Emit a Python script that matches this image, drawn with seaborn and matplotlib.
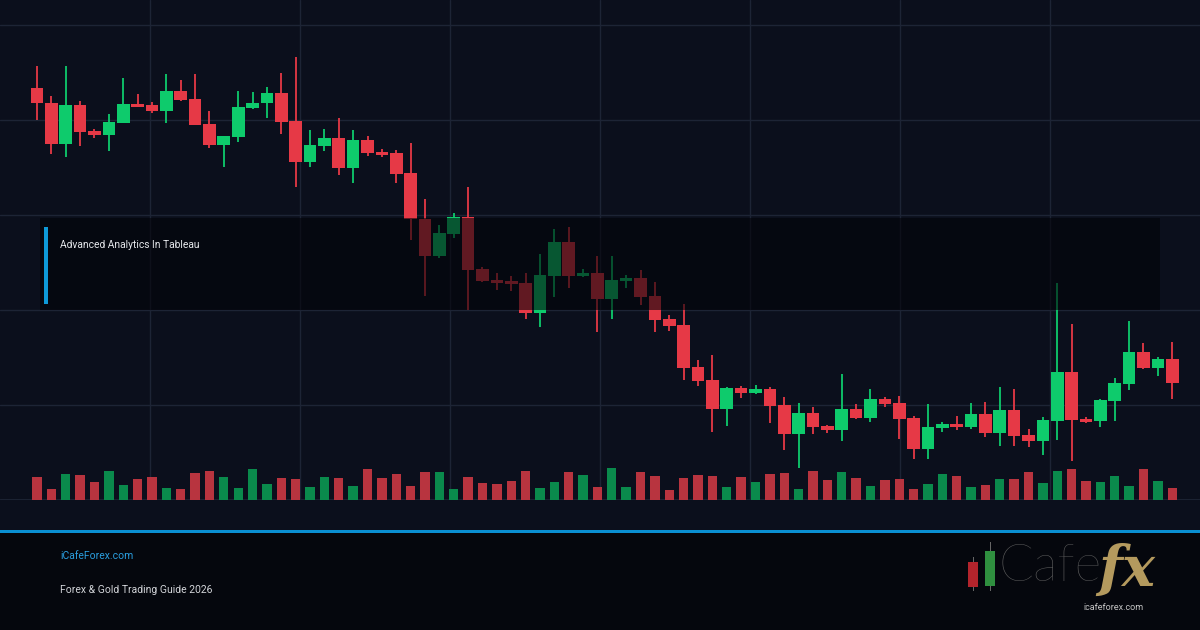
import numpy as np
import pandas as pd
import seaborn as sns
import matplotlib.pyplot as plt
from matplotlib.patches import Rectangle

# candle values (arbitrary price units)
opens = [2341.2, 2339.7, 2335.6, 2339.5, 2336.9, 2336.5, 2337.7, 2339.6, 2339.5, 2338.9,
         2340.9, 2340.1, 2337.6, 2335.5, 2336.3, 2339.2, 2339.7, 2340.7, 2337.9, 2333.8,
         2335.4, 2336.2, 2333.2, 2336.0, 2334.8, 2334.7, 2332.7, 2328.1, 2324.4, 2326.6,
         2328.3, 2323.1, 2322.0, 2321.9, 2321.7, 2318.7, 2322.4, 2325.8, 2322.4, 2322.7,
         2320.1, 2321.9, 2322.2, 2320.4, 2318.1, 2317.5, 2313.3, 2312.0, 2309.1, 2311.2,
         2310.7, 2311.1, 2309.5, 2306.6, 2308.7, 2307.4, 2307.0, 2309.1, 2308.2, 2310.1,
         2309.7, 2308.2, 2305.1, 2307.2, 2307.6, 2307.3, 2308.6, 2306.7, 2309.0, 2306.5,
         2305.9, 2307.9, 2312.8, 2308.1, 2307.9, 2309.9, 2311.6, 2314.8, 2313.2, 2314.1]
highs = [2343.4, 2340.4, 2343.4, 2339.9, 2337.1, 2338.6, 2342.2, 2340.6, 2339.8, 2342.6,
         2342.0, 2342.6, 2338.9, 2336.4, 2340.9, 2340.8, 2341.3, 2342.7, 2344.3, 2337.0,
         2337.1, 2338.2, 2337.0, 2336.4, 2335.1, 2335.0, 2335.7, 2330.1, 2327.5, 2328.7,
         2331.3, 2323.3, 2322.7, 2322.4, 2322.7, 2324.6, 2327.1, 2327.3, 2323.1, 2324.4,
         2324.4, 2322.5, 2323.0, 2321.8, 2318.5, 2319.6, 2314.0, 2314.5, 2311.3, 2311.4,
         2311.5, 2311.3, 2310.3, 2309.7, 2309.3, 2307.5, 2312.6, 2309.6, 2311.1, 2310.3,
         2310.4, 2308.4, 2309.6, 2307.8, 2308.4, 2309.7, 2309.8, 2311.3, 2311.1, 2307.1,
         2308.3, 2321.7, 2317.6, 2308.3, 2310.1, 2312.2, 2317.9, 2315.7, 2314.3, 2315.8]
lows = [2338.0, 2334.6, 2334.3, 2335.4, 2336.2, 2334.9, 2337.7, 2339.3, 2338.7, 2337.7,
        2339.9, 2337.5, 2335.2, 2333.3, 2335.8, 2339.1, 2338.2, 2336.6, 2331.3, 2333.3,
        2334.9, 2332.5, 2331.7, 2334.4, 2334.3, 2331.7, 2326.0, 2320.4, 2324.2, 2326.2,
        2319.0, 2321.8, 2321.0, 2320.9, 2318.1, 2317.3, 2320.3, 2321.2, 2322.3, 2316.8,
        2318.1, 2321.2, 2319.5, 2316.8, 2316.9, 2312.0, 2311.4, 2306.8, 2307.4, 2310.2,
        2310.6, 2307.7, 2305.0, 2303.2, 2306.6, 2306.7, 2305.9, 2308.1, 2307.8, 2309.3,
        2306.1, 2304.1, 2304.1, 2306.8, 2307.0, 2307.1, 2306.3, 2305.4, 2305.4, 2305.3,
        2304.5, 2306.0, 2303.9, 2307.7, 2307.3, 2307.9, 2311.0, 2313.1, 2312.4, 2310.1]
closes = [2339.7, 2335.6, 2339.5, 2336.8, 2336.5, 2337.8, 2339.6, 2339.3, 2338.9, 2340.9,
          2340.0, 2337.5, 2335.5, 2336.4, 2339.3, 2339.7, 2340.7, 2337.8, 2333.8, 2335.5,
          2336.2, 2333.2, 2336.0, 2334.7, 2334.5, 2332.6, 2328.1, 2324.4, 2326.7, 2328.3,
          2323.0, 2321.9, 2321.7, 2321.6, 2318.7, 2322.5, 2325.8, 2322.4, 2322.7, 2320.1,
          2322.0, 2322.2, 2320.3, 2318.0, 2317.4, 2313.2, 2311.9, 2309.1, 2311.2, 2310.7,
          2311.1, 2309.4, 2306.6, 2308.7, 2307.3, 2307.0, 2309.1, 2308.2, 2310.1, 2309.6,
          2308.1, 2305.1, 2307.3, 2307.6, 2307.3, 2308.6, 2306.7, 2309.0, 2306.4, 2305.9,
          2308.0, 2312.8, 2308.0, 2307.8, 2310.0, 2311.7, 2314.8, 2313.2, 2314.1, 2311.7]
volumes = [2300, 1100, 2600, 2500, 1800, 2900, 1500, 2100, 2300, 1200,
           1100, 2700, 2900, 2300, 1200, 3100, 1600, 2200, 2100, 1300,
           2300, 2200, 1400, 3100, 2200, 2600, 1400, 2800, 2800, 1100,
           2300, 1700, 1600, 1900, 2900, 1200, 1800, 2800, 2500, 1300,
           3200, 1300, 2800, 2400, 1000, 2200, 2500, 2400, 1300, 2300,
           1800, 2600, 2700, 1100, 2900, 2000, 2800, 2200, 1400, 2000,
           2100, 1100, 1600, 2600, 2400, 1300, 1500, 2100, 2100, 2800,
           1700, 2900, 3100, 1900, 1800, 2400, 1400, 3100, 1900, 1200]

BG = "#0b0f1c"
FOOT = "#05070d"
GRID = "#1d2435"
UP, DOWN = "#0ecb6c", "#e63946"
VUP, VDOWN = "#0a8a4c", "#b8343f"

df = pd.DataFrame({"open": opens, "high": highs, "low": lows, "close": closes, "volume": volumes})
df["idx"] = np.arange(len(df))
df["dir"] = np.where(df["close"] >= df["open"], "up", "down")

sns.set_theme(style="dark")
plt.rcParams["font.family"] = ["Roboto", "DejaVu Sans"]

fig = plt.figure(figsize=(12, 6.3), dpi=100, facecolor=BG)
ax = fig.add_axes([0, 130 / 630, 1, 500 / 630])
ax.set_facecolor(BG)

# volume on a twin axis so the bars sit in the bottom strip
ax2 = ax.twinx()
sns.barplot(data=df, x="idx", y="volume", hue="dir", palette={"up": VUP, "down": VDOWN},
            native_scale=True, dodge=False, width=0.65, saturation=1, legend=False,
            edgecolor="none", linewidth=0, ax=ax2)
ax2.set_ylim(0, 50000)
ax2.set_axis_off()

cols = df["dir"].map({"up": UP, "down": DOWN})
ax.vlines(df["idx"], df["low"], df["high"], colors=cols, lw=1.3, zorder=2)
body_lo = np.minimum(df["open"], df["close"])
body_h = np.maximum(np.abs(df["close"] - df["open"]), 0.25)
ax.bar(df["idx"], body_h, bottom=body_lo, width=0.88, color=cols, edgecolor="none", linewidth=0, zorder=3)

# pixel layout: first candle at x=37, step 14.37 px
x0, step = 37, 14.37
ax.set_xlim(-x0 / step, (1200 - x0) / step)
ax2.set_xlim(ax.get_xlim())
ax.set_ylim(2300, 2350)
ax.set_xticks((np.arange(150, 1200, 150) - x0) / step)
ax.set_yticks([2300, 2309.5, 2319, 2328.5, 2338, 2347.5])
ax.grid(True, color=GRID, lw=1)
ax.tick_params(length=0, labelleft=False, labelbottom=False)
for s in ax.spines.values():
    s.set_visible(False)
ax.set_xlabel("")
ax.set_ylabel("")
ax.axhline(2300, color=GRID, lw=2, zorder=1)

# title panel over the chart
fig.add_artist(Rectangle((40 / 1200, 320 / 630), 1120 / 1200, 92 / 630, transform=fig.transFigure,
                         facecolor="#020308", alpha=0.58, edgecolor="none", zorder=5))
fig.add_artist(Rectangle((44 / 1200, 326 / 630), 4 / 1200, 77 / 630, transform=fig.transFigure,
                         facecolor="#0e9ad8", edgecolor="none", zorder=6))
fig.text(60 / 1200, (630 - 245) / 630, "Advanced Analytics In Tableau", va="center", ha="left",
         fontsize=7.4, color="#e6e8ec", zorder=7)

# footer
fig.add_artist(Rectangle((0, 0), 1, 97 / 630, transform=fig.transFigure, facecolor=FOOT,
                         edgecolor="none", zorder=4))
fig.add_artist(Rectangle((0, 97 / 630), 1, 3 / 630, transform=fig.transFigure, facecolor="#0a8fd2",
                         edgecolor="none", zorder=5))
fig.text(60 / 1200, (630 - 556) / 630, "iCafeForex.com", va="center", ha="left", fontsize=7.5,
         color="#2a9fe0", zorder=7)
fig.text(60 / 1200, (630 - 590) / 630, "Forex & Gold Trading Guide 2026", va="center", ha="left",
         fontsize=7.5, color="#d2d4d8", zorder=7)

# logo
for (xl, yb, h, wb, wt, c) in [(968, 587, 25, 591, 557, "#b3242c"), (985, 586, 35, 591, 542, "#2f8f3f")]:
    fig.add_artist(Rectangle(((xl + 4.5) / 1200, (630 - wb) / 630), 1.5 / 1200, (wb - wt) / 630,
                             transform=fig.transFigure, facecolor="#666666", edgecolor="none", zorder=6))
    fig.add_artist(Rectangle((xl / 1200, (630 - yb) / 630), 10 / 1200, h / 630,
                             transform=fig.transFigure, facecolor=c, edgecolor="none", zorder=7))
fig.text(998 / 1200, (630 - 567) / 630, "Cafe", va="center", ha="left", fontsize=37,
         color="#5e5e5e", family=["Lato", "DejaVu Sans"], fontweight="light", zorder=7)
fig.text(1098 / 1200, (630 - 570) / 630, "fx", va="center", ha="left", fontsize=40,
         color="#b49a5e", family=["DejaVu Serif"], fontstyle="italic", fontweight="bold", zorder=8)
fig.text(1113 / 1200, (630 - 608) / 630, "icafeforex.com", va="center", ha="center", fontsize=6.5,
         color="#c4c4c4", zorder=8)

plt.savefig("out.png", dpi=100, facecolor=fig.get_facecolor())
plt.close()
